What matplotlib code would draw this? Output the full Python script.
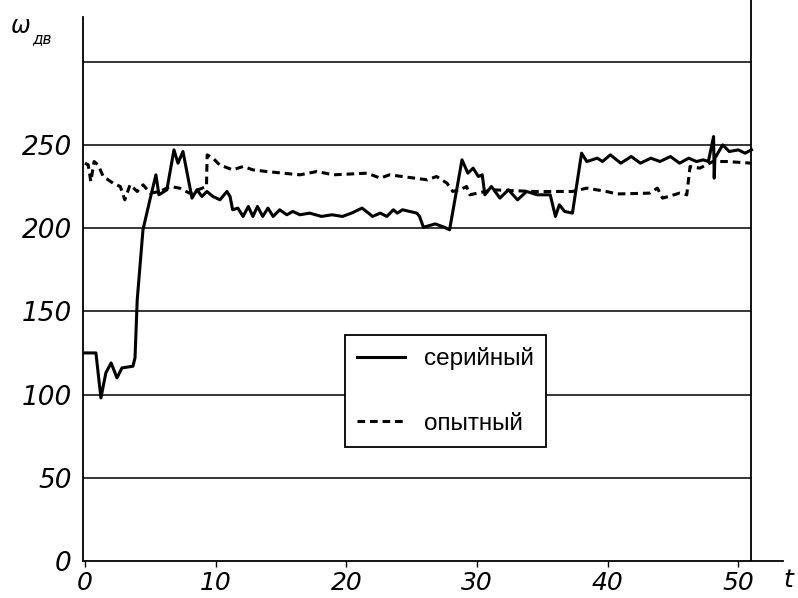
import matplotlib
matplotlib.use("Agg")
import matplotlib.pyplot as plt

# серийный (solid)
t_ser = [0.0, 0.84, 1.22, 1.6, 2.0, 2.45, 2.83, 3.67, 3.83, 4.0, 4.44, 4.97, 5.43, 5.66,
         6.27, 6.81, 7.12, 7.5, 8.19, 8.57, 8.95, 9.33, 9.79, 10.33, 10.86, 11.1, 11.3,
         11.7, 12.1, 12.5, 12.85, 13.2, 13.6, 14.0, 14.4, 14.9, 15.45, 15.9, 16.45, 17.2,
         18.1, 18.9, 19.7, 20.4, 21.2, 21.7, 22.0, 22.6, 23.1, 23.6, 23.9, 24.3, 24.85,
         25.4, 25.6, 25.9, 26.8, 27.5, 27.9, 28.85, 29.3, 29.7, 30.1, 30.4, 30.6, 31.1,
         31.75, 32.4, 33.1, 33.8, 34.6, 35.6, 36.0, 36.3, 36.7, 37.3, 38.0, 38.4, 39.2,
         39.6, 40.2, 41.0, 41.8, 42.5, 43.3, 44.0, 44.8, 45.5, 46.2, 46.8, 47.3, 47.7,
         48.1, 48.15, 48.2, 48.8, 49.3, 50.0, 50.5, 51.0]
w_ser = [125, 125, 98, 113, 119, 110, 116, 117, 122, 157, 199, 217, 232, 220,
         223, 247, 239, 246, 218, 223, 219, 222, 219, 217, 222, 219, 211,
         212, 207, 213, 207, 213, 207, 212, 207, 211, 208, 210, 208, 209,
         207, 208, 207, 209, 212, 209, 207, 209, 207, 211, 209, 211, 210,
         209, 207, 200.5, 202.5, 200.5, 199, 241, 233, 236, 231, 232, 220, 225,
         218, 223, 217, 222, 220, 220, 207, 214, 210, 209, 245, 240, 242,
         240, 244, 239, 243, 239, 242, 240, 243, 239, 242, 240, 241, 240,
         255, 230, 242, 250, 246, 247, 245, 247]

# опытный (dashed)
t_op = [0.0, 0.25, 0.45, 0.7, 1.0, 1.4, 2.15, 2.7, 3.05, 3.45, 4.0, 4.45, 5.0, 5.75,
        6.5, 7.25, 8.0, 9.3, 9.35, 9.8, 10.3, 11.3, 12.1, 12.85, 13.9, 15.15, 16.45,
        17.75, 19.0, 21.6, 22.6, 23.3, 26.2, 26.9, 27.7, 28.15, 28.7, 29.2, 29.45,
        31.2, 34.3, 37.3, 38.4, 39.9, 40.7, 43.2, 43.8, 44.2, 45.5, 46.05, 46.3,
        47.05, 48.05, 49.1, 51.0]
w_op = [239, 238, 228, 240, 238, 231, 227, 225, 217, 226, 222, 226, 221, 222,
        225, 224, 221, 225, 244, 242, 238, 235, 237, 235, 234, 233, 232,
        234, 232, 233, 230, 232, 229, 231, 227, 222, 223, 225, 220,
        223, 222, 222, 224, 222, 220.5, 221, 224, 218, 221, 220, 237,
        236, 240, 240, 239]

grid_levels = [50, 100, 150, 200, 250, 300]
y_ticks = [0, 50, 100, 150, 200, 250]
x_ticks = [0, 10, 20, 30, 40, 50]

fig = plt.figure(figsize=(7.98, 5.98), dpi=100)
ax = fig.add_axes([0.104, 0.0619, 0.877, 0.938])

ax.hlines(grid_levels, -0.15, 51.0, color='black', lw=1.1, zorder=1)
ax.axvline(51.0, color='black', lw=1.3, zorder=1)

ax.plot(t_ser, w_ser, color='black', lw=2.2, solid_joinstyle='round', label='серийный', zorder=3)
ax.plot(t_op, w_op, color='black', lw=2.2, linestyle=(0, (2.5, 1.6)), label='опытный', zorder=3)

ax.set_xlim(-0.15, 53.4)
ax.set_ylim(0, 337)
for s in ['top', 'right']:
    ax.spines[s].set_visible(False)
ax.spines['left'].set_bounds(0, 327)
ax.spines['left'].set_linewidth(1.3)
ax.spines['bottom'].set_linewidth(1.3)

ax.set_xticks(x_ticks)
ax.set_yticks(y_ticks)
ax.tick_params(axis='x', direction='out', length=4, width=1, pad=3)
ax.tick_params(axis='y', length=0, pad=8)
for lab in ax.get_yticklabels():
    lab.set_fontstyle('italic')
    lab.set_fontsize(19)
for lab in ax.get_xticklabels():
    lab.set_fontstyle('italic')
    lab.set_fontsize(18)

leg = ax.legend(loc='lower left', bbox_to_anchor=(0.374, 0.203), borderaxespad=0,
                prop={'family': ['Liberation Sans', 'DejaVu Sans'], 'size': 17.5},
                frameon=True, fancybox=False, framealpha=1, edgecolor='black',
                borderpad=0.5, labelspacing=1.75, handlelength=2.0, handletextpad=0.75)
leg.get_frame().set_linewidth(1.3)
leg.set_zorder(5)

fig.text(0.014, 0.945, 'ω', fontsize=17, fontstyle='italic')
fig.text(0.040, 0.927, 'дв', fontsize=11, fontstyle='italic')
fig.text(0.982, 0.018, 't', fontsize=18, fontstyle='italic')

fig.savefig('out.png', dpi=100)
